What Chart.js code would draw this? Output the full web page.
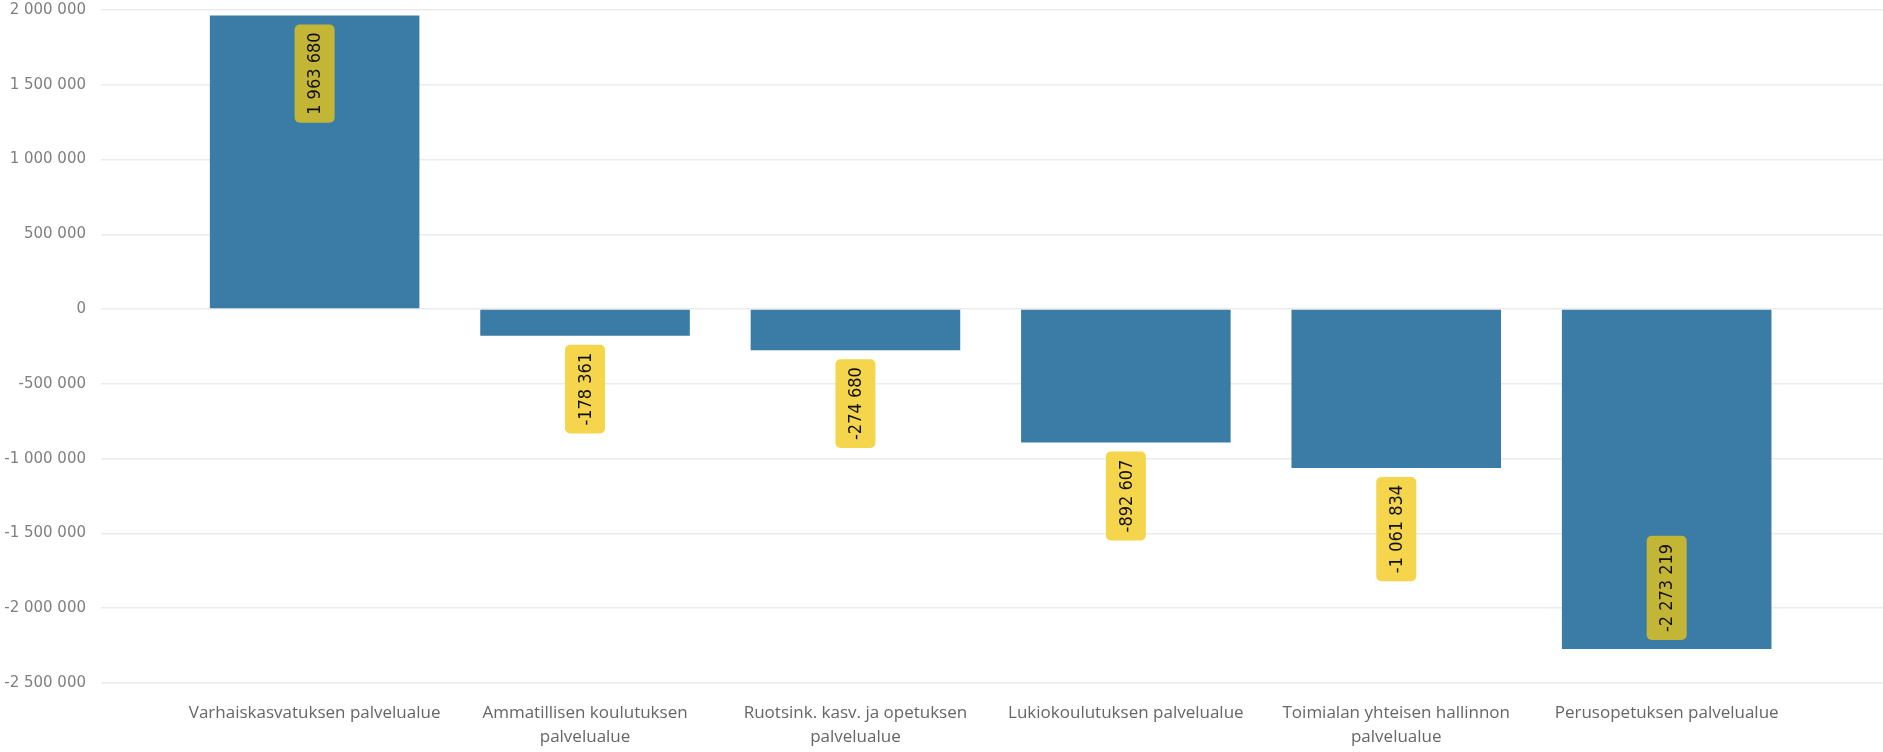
<!DOCTYPE html>
<html>
<head>
<meta charset="utf-8">
<script src="https://cdn.jsdelivr.net/npm/chart.js@4.4.1/dist/chart.umd.min.js"></script>
<style>
  html, body { margin: 0; padding: 0; background: #ffffff; }
  #wrap { width: 1883px; height: 752px; }
</style>
</head>
<body>
<div id="wrap"><canvas id="budgetChart"></canvas></div>
<script>
// Categories (tick labels, already wrapped as in the picture)
const categories = [
  ["Varhaiskasvatuksen palvelualue"],
  ["Ammatillisen koulutuksen", "palvelualue"],
  ["Ruotsink. kasv. ja opetuksen", "palvelualue"],
  ["Lukiokoulutuksen palvelualue"],
  ["Toimialan yhteisen hallinnon", "palvelualue"],
  ["Perusopetuksen palvelualue"]
];
const values = [1963680, -178361, -274680, -892607, -1061834, -2273219];
const yTicks = [2000000, 1500000, 1000000, 500000, 0, -500000, -1000000, -1500000, -2000000, -2500000];

const BAR_COLOR = "#3a7ca5";
const LABEL_OUT = "#f5d54b";
const LABEL_IN = "#c3b636";

function fmt(v) {
  const s = Math.abs(Math.round(v)).toString().replace(/\B(?=(\d{3})+(?!\d))/g, " ");
  return (v < 0 ? "-" : "") + s;
}

// rotated value boxes, placed from the bar elements
const valueLabels = {
  id: "valueLabels",
  afterDatasetsDraw(chart) {
    const ctx = chart.ctx;
    const area = chart.chartArea;
    const meta = chart.getDatasetMeta(0);
    ctx.save();
    ctx.font = "18px 'Liberation Sans Narrow', 'DejaVu Sans Condensed', sans-serif";
    ctx.textAlign = "center";
    ctx.textBaseline = "middle";
    meta.data.forEach((bar, i) => {
      const v = values[i];
      const text = fmt(v);
      const tw = ctx.measureText(text).width;
      const boxH = tw + 16;
      const boxW = 40;
      const gap = 9;
      let top, inside;
      if (v >= 0) {
        top = bar.y + gap;
        inside = true;
      } else {
        top = bar.y + gap;
        inside = false;
        // no room below the bar: put it inside, at the end
        if (top + boxH > area.bottom) {
          top = bar.y - gap - boxH;
          inside = true;
        }
      }
      const x = bar.x;
      ctx.fillStyle = inside ? LABEL_IN : LABEL_OUT;
      ctx.beginPath();
      ctx.roundRect(x - boxW / 2, top, boxW, boxH, 5);
      ctx.fill();
      ctx.save();
      ctx.translate(x, top + boxH / 2);
      ctx.rotate(-Math.PI / 2);
      ctx.fillStyle = "#111111";
      ctx.fillText(text, 0, 1);
      ctx.restore();
    });
    ctx.restore();
  }
};

function renderChart() {
  const canvas = document.getElementById("budgetChart");
  const ctx = canvas.getContext("2d");

  new Chart(ctx, {
    type: "bar",
    data: {
      datasets: [{
        data: values.map((v, i) => ({ x: i, y: v })),
        backgroundColor: BAR_COLOR,
        borderWidth: 0,
        barPercentage: 0.775,
        categoryPercentage: 1
      }]
    },
    options: {
      responsive: true,
      maintainAspectRatio: false,
      animation: false,
      layout: { padding: { top: 10, right: 0, bottom: 0, left: 0 } },
      scales: {
        x: {
          type: "linear",
          offset: false,
          min: -0.79,
          max: 5.8,
          grid: { display: false },
          border: { display: false },
          afterBuildTicks: scale => { scale.ticks = categories.map((c, i) => ({ value: i })); },
          afterFit: scale => { scale.height = 69; },
          ticks: {
            autoSkip: false,
            maxRotation: 0,
            padding: 10,
            color: "#666666",
            font: { family: "'Open Sans', sans-serif", size: 17, lineHeight: 1.41 },
            callback: v => categories[v] || ""
          }
        },
        y: {
          min: -2500000,
          max: 2000000,
          afterBuildTicks: scale => { scale.ticks = yTicks.map(v => ({ value: v })); },
          afterFit: scale => { scale.width = 101; scale.paddingTop = 0; scale.paddingBottom = 0; },
          grid: { color: "#ebebeb", lineWidth: 1.5, drawTicks: false },
          border: { display: false },
          ticks: {
            padding: 15,
            color: "#7f7f7f",
            font: { family: "'DejaVu Sans', sans-serif", size: 15 },
            callback: v => fmt(v)
          }
        }
      },
      plugins: {
        legend: { display: false },
        tooltip: { enabled: false }
      }
    },
    plugins: [valueLabels]
  });
}

window.addEventListener("DOMContentLoaded", renderChart);
</script>
</body>
</html>
